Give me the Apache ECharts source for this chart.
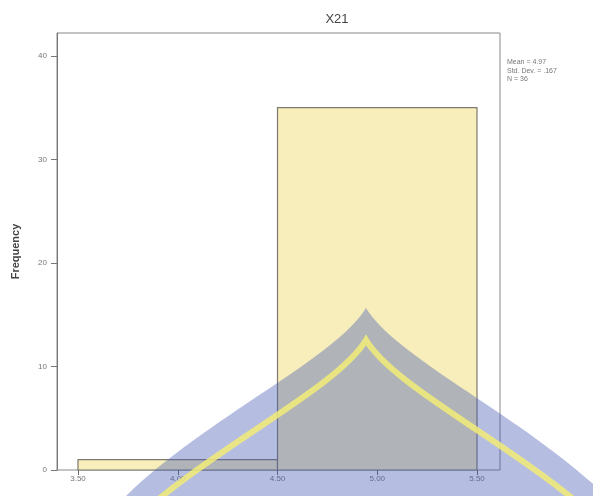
<!DOCTYPE html>
<html>
<head>
<meta charset="utf-8">
<script src="https://cdn.jsdelivr.net/npm/echarts@6/dist/echarts.min.js"></script>
<style>
  html, body { margin: 0; padding: 0; background: #fff; }
  #chart { width: 593px; height: 496px; }
</style>
</head>
<body>
<div id="chart"></div>
<script>
// histogram bins: [start, end, frequency]
const binStarts = [3.5, 4.5];
const binEnds = [4.5, 5.5];
const frequencies = [1, 35];
const xTicks = [3.5, 4.0, 4.5, 5.0, 5.5];
const yTicks = [0, 10, 20, 30, 40];
const statsLines = ["Mean = 4.97", "Std. Dev. = .167", "N = 36"];

const chart = echarts.init(document.getElementById("chart"));

const yMax = 42.2;
const binData = binStarts.map((s, i) => [s, binEnds[i], frequencies[i]]);

// watermark overlay (decoration over the scan, not data)
// one cubic per side, mirrored around the apex
function archSide(cx, top, sign) {
  const p = (dx, dy) => (cx + sign * dx) + "," + (top + dy);
  return [p(0, 0), p(30, 50), p(160, 110), p(240, 188)];
}
const leftA = archSide(366, 308, -1);
const rightA = archSide(366, 308, 1);
const arch =
  "M" + leftA[3] + " C" + leftA[2] + " " + leftA[1] + " " + leftA[0] +
  " C" + rightA[1] + " " + rightA[2] + " " + rightA[3] +
  " L" + (366 + 260) + ",520 L" + (366 - 260) + ",520 Z";
const leftL = archSide(366, 340, -1);
const rightL = archSide(366, 340, 1);
const archLine =
  "M" + leftL[3] + " C" + leftL[2] + " " + leftL[1] + " " + leftL[0] +
  " C" + rightL[1] + " " + rightL[2] + " " + rightL[3];

const svg =
  '<svg xmlns="http://www.w3.org/2000/svg" width="593" height="496">' +
  '<path d="' + arch + '" fill="rgb(70,90,180)" fill-opacity="0.4"/>' +
  '<path d="' + archLine + '" fill="none" stroke="rgb(242,236,120)" stroke-opacity="0.85" stroke-width="6"/>' +
  "</svg>";
const svgUrl = "data:image/svg+xml;charset=utf-8," + encodeURIComponent(svg);

const option = {
  animation: false,
  title: {
    text: "X21",
    left: 332,
    top: 8,
    textAlign: "center",
    textStyle: {
      fontFamily: "Liberation Sans",
      fontSize: 13,
      fontWeight: "normal",
      color: "#444",
    },
  },
  grid: [
    {
      left: 57,
      right: 93,
      top: 33,
      bottom: 26,
      show: true,
      borderColor: "#888",
      borderWidth: 1,
      backgroundColor: "transparent",
    },
    {
      left: 78,
      right: 116,
      top: 33,
      bottom: 26,
    },
  ],
  xAxis: [
    {
      gridIndex: 0,
      type: "value",
      min: 0,
      max: 1,
      show: false,
    },
    {
      gridIndex: 1,
      type: "value",
      min: xTicks[0],
      max: xTicks[xTicks.length - 1],
      interval: 0.5,
      axisLine: { show: false },
      axisTick: { show: true, length: 5, lineStyle: { color: "#666" } },
      axisLabel: {
        color: "#777",
        fontSize: 8,
        fontFamily: "Liberation Sans",
        margin: 5,
        formatter: (v) => v.toFixed(2),
      },
      splitLine: { show: false },
    },
  ],
  yAxis: [
    {
      gridIndex: 0,
      type: "value",
      min: yTicks[0],
      max: yMax,
      interval: 10,
      name: "Frequency",
      nameLocation: "middle",
      nameGap: 36,
      nameTextStyle: {
        fontFamily: "Liberation Sans",
        fontSize: 11,
        fontWeight: "bold",
        color: "#444",
      },
      axisLine: { show: true, lineStyle: { color: "#777" } },
      axisTick: { show: true, length: 6, lineStyle: { color: "#777" } },
      axisLabel: {
        color: "#777",
        fontSize: 8,
        fontFamily: "Liberation Sans",
        margin: 10,
        showMaxLabel: false,
      },
      splitLine: { show: false },
    },
    {
      gridIndex: 1,
      type: "value",
      min: yTicks[0],
      max: yMax,
      show: false,
    },
  ],
  series: [
    {
      type: "custom",
      xAxisIndex: 1,
      yAxisIndex: 1,
      data: binData,
      renderItem: (params, api) => {
        const p0 = api.coord([api.value(0), 0]);
        const p1 = api.coord([api.value(1), api.value(2)]);
        return {
          type: "rect",
          shape: {
            x: p0[0],
            y: p1[1],
            width: p1[0] - p0[0],
            height: p0[1] - p1[1],
          },
          style: {
            fill: "#f7eebb",
            stroke: "#7d7a70",
            lineWidth: 1.2,
          },
        };
      },
    },
  ],
  graphic: [
    {
      type: "text",
      left: 507,
      top: 58,
      style: {
        text: statsLines.join("\n"),
        fontFamily: "Liberation Sans",
        fontSize: 7,
        lineHeight: 8.5,
        fill: "#777",
      },
    },
    {
      type: "image",
      left: 0,
      top: 0,
      z: 100,
      silent: true,
      style: { image: svgUrl, width: 593, height: 496 },
    },
  ],
};

chart.setOption(option);
</script>
</body>
</html>
